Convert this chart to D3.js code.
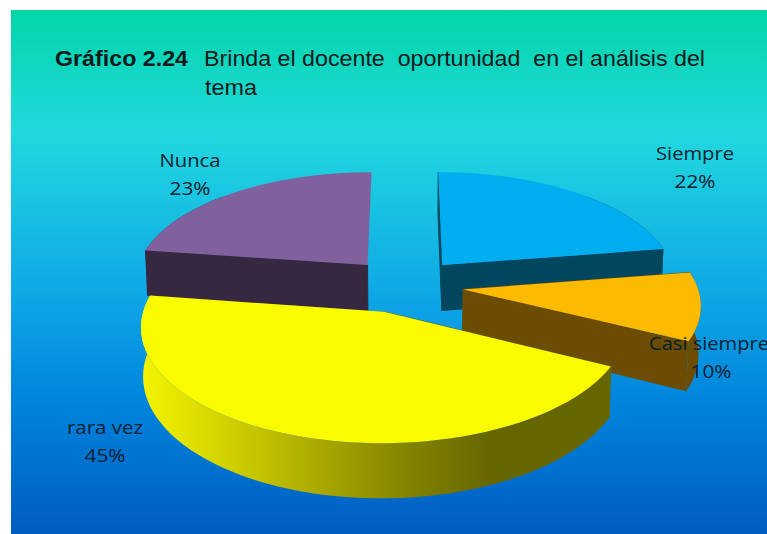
<!DOCTYPE html>
<html>
<head>
<meta charset="utf-8">
<script src="https://cdn.jsdelivr.net/npm/d3@7"></script>
<style>
html,body{margin:0;padding:0;background:#fff;overflow:hidden}
svg{display:block}
</style>
</head>
<body>
<svg id="chart" width="767" height="534"></svg>
<script>
const categories = ["Siempre", "Casi siempre", "rara vez", "Nunca"];
const sliceValues = [22.5, 9.9, 44.9, 22.7];
const percentLabels = ["22%", "10%", "45%", "23%"];
const titleBold = "Gráfico 2.24";
const titleLines = ["Brinda el docente  oportunidad  en el análisis del", "tema"];

const topColors = ["#00adef", "#fcba00", "#fbfb00", "#80619d"];
const wallColors = ["#00465f", "#6b4c00", "#666600", "#352840"];

const svg = d3.select("#chart");
const defs = svg.append("defs");

// Background
const bg = defs.append("linearGradient").attr("id", "bg").attr("x1", 0).attr("y1", 0).attr("x2", 0).attr("y2", 1);
[[0, "#03d6a8"], [0.235, "#21d8de"], [0.55, "#0ea6e6"], [0.75, "#0084dc"], [1, "#005cc0"]]
  .forEach(s => bg.append("stop").attr("offset", s[0]).attr("stop-color", s[1]));
svg.append("rect").attr("x", 11).attr("y", 10).attr("width", 756).attr("height", 524).attr("fill", "url(#bg)");

const wallGrad = defs.append("linearGradient").attr("id", "wallGrad")
  .attr("gradientUnits", "userSpaceOnUse").attr("x1", 142).attr("x2", 490).attr("y1", 0).attr("y2", 0);
[[0, "#f4f400"], [0.2, "#d8d800"], [0.5, "#aaaa00"], [0.75, "#858500"], [1, "#666600"]]
  .forEach(s => wallGrad.append("stop").attr("offset", s[0]).attr("stop-color", s[1]));

// Projection of the tilted disc
const perspective = 0.12, depth = 47, explode = 0.25;
const xScale = d3.scaleLinear().domain([-1, 1]).range([405 - 234, 405 + 234]);
const yScale = d3.scaleLinear().domain([-1, 1]).range([285.2 - 108.6, 285.2 + 108.6]);
function project(x, z, h) {
  const f = 1 / (1 - perspective * z);
  const shrink = 1 - 0.008 * h;
  return [xScale(x * f * shrink), yScale(z * f) + h * depth * f];
}

const pie = d3.pie().sort(null).value(d => d)(sliceValues);
const line = d3.line();

const slices = pie.map((p, i) => {
  const mid = (p.startAngle + p.endAngle) / 2;
  const ox = Math.sin(mid) * explode + (categories[i] === "rara vez" ? -0.012 : 0);
  const oz = -Math.cos(mid) * explode;
  const angle = k => p.startAngle + (p.endAngle - p.startAngle) * k / 60;
  const rim = h => d3.range(0, 61).map(k => {
    const a = angle(k);
    return project(ox + Math.sin(a), oz - Math.cos(a), h);
  });
  // only the part of the rim that faces the viewer gets an outer wall
  const front = d3.range(0, 61).filter(k => Math.abs(Math.sin(angle(k))) > 0.7 || Math.cos(angle(k)) < 0);
  const centre = h => project(ox, oz, h);
  return { i, rim, front, centre };
});

function drawSlice(s) {
  const g = svg.append("g");
  const wall = s.i === 2 ? "url(#wallGrad)" : wallColors[s.i];
  const top = s.rim(0), bot = s.rim(1);
  const cT = s.centre(0), cB = s.centre(1);
  // radial faces
  g.append("path").attr("d", line([cT, top[0], bot[0], cB]) + "Z").attr("fill", wallColors[s.i]).attr("stroke", wallColors[s.i]).attr("stroke-width", 1);
  if (s.i !== 3) g.append("path").attr("d", line([cT, top[60], bot[60], cB]) + "Z").attr("fill", wallColors[s.i]);
  // outer wall
  const frontTop = s.front.map(k => top[k]), frontBot = s.front.map(k => bot[k]);
  g.append("path").attr("d", line(frontTop.concat(frontBot.reverse())) + "Z").attr("fill", wall);
  // top
  g.append("path").attr("d", line([cT].concat(top)) + "Z").attr("fill", topColors[s.i]);
}
[0, 3, 1, 2].forEach(i => drawSlice(slices[i]));

// Title
const titleFont = "'Liberation Sans', Arial, sans-serif";
svg.append("text").attr("x", 55).attr("y", 66).attr("font-family", titleFont).attr("font-size", 22)
  .attr("font-weight", "bold").attr("fill", "#0a1a1a").attr("textLength", 133).attr("lengthAdjust", "spacingAndGlyphs").text(titleBold);
svg.append("text").attr("x", 204).attr("y", 66).attr("font-family", titleFont).attr("font-size", 22)
  .attr("fill", "#0a1a1a").attr("textLength", 501).attr("lengthAdjust", "spacingAndGlyphs").style("white-space", "pre").text(titleLines[0]);
svg.append("text").attr("x", 205).attr("y", 95).attr("font-family", titleFont).attr("font-size", 22)
  .attr("fill", "#0a1a1a").attr("textLength", 52).attr("lengthAdjust", "spacingAndGlyphs").text(titleLines[1]);

// Labels
const labelAnchors = [[695, 160, 78, 695, 188], [709, 350, 120, 711, 378], [105, 434, 76, 105, 462], [190, 167, 61, 190, 195]];
const labelFont = "'Open Sans', 'Noto Sans', sans-serif";
labelAnchors.forEach((a, i) => {
  svg.append("text").attr("x", a[0]).attr("y", a[1]).attr("text-anchor", "middle").attr("font-family", labelFont)
    .attr("font-size", 19).attr("fill", "#06202e").attr("textLength", a[2]).attr("lengthAdjust", "spacingAndGlyphs").text(categories[i]);
  svg.append("text").attr("x", a[3]).attr("y", a[4]).attr("text-anchor", "middle").attr("font-family", labelFont)
    .attr("font-size", 19).attr("fill", "#06202e").attr("textLength", 41).attr("lengthAdjust", "spacingAndGlyphs").text(percentLabels[i]);
});
</script>
</body>
</html>
